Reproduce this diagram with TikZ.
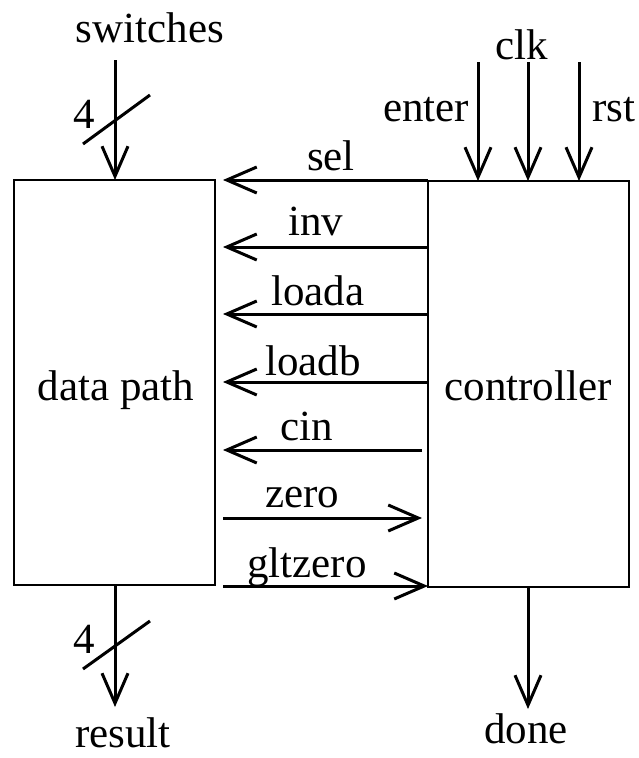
\documentclass[tikz,border=0pt]{standalone}
\usepackage{fontspec}
\setmainfont{Liberation Serif}
\usetikzlibrary{arrows.meta}
\tikzset{
  blk/.style={draw, line width=1.8pt, minimum width=201pt, inner sep=0pt, outer sep=0pt},
  sig/.style={line width=3pt, -{Straight Barb[length=30pt,width=26pt,line width=3pt]}},
  bus/.style={line width=3pt},
  lbl/.style={font=\fontsize{43}{46}\selectfont, inner sep=0pt, anchor=base},
}
\begin{document}
\begin{tikzpicture}[x=1pt,y=-1pt]
\useasboundingbox (0,0) rectangle (639,758);
% blocks
\node[blk, minimum height=405pt, anchor=north west] (dp) at (14,180) {};
\node[blk, minimum height=406pt, anchor=north west] (ctl) at (428,181) {};
\node[lbl] (dpl) at (116,400) {data path};
\node[lbl] (ctll) at (528,400) {controller};
% top inputs
\node[lbl] (sw) at (150,42) {switches};
\coordinate (swa) at (115,60);
\draw[sig] (swa) -- (swa |- dp.north);
\coordinate (s1a) at (83,144); \coordinate (s1b) at (150,95);
\draw[bus] (s1a) -- (s1b);
\node[lbl] (n4a) at (84,128) {4};
\node[lbl] (clk) at (522,59) {clk};
\node[lbl] (ent) at (426,121) {enter};
\node[lbl] (rst) at (614,121) {rst};
\coordinate (ea) at (478,62);
\coordinate (ca) at (528,62);
\coordinate (ra) at (579,62);
\draw[sig] (ea) -- (ea |- ctl.north);
\draw[sig] (ca) -- (ca |- ctl.north);
\draw[sig] (ra) -- (ra |- ctl.north);
% control signals
\coordinate (selS) at (428,180); \coordinate (selE) at (223,180);
\coordinate (invS) at (428,247); \coordinate (invE) at (223,247);
\coordinate (laS) at (428,314); \coordinate (laE) at (223,314);
\coordinate (lbS) at (428,382); \coordinate (lbE) at (223,382);
\coordinate (cinS) at (422,450); \coordinate (cinE) at (223,450);
\coordinate (zS) at (223,518); \coordinate (zE) at (422,518);
\coordinate (gS) at (223,586); \coordinate (gE) at (428,586);
\draw[sig] (selS) -- (selE);
\draw[sig] (invS) -- (invE);
\draw[sig] (laS) -- (laE);
\draw[sig] (lbS) -- (lbE);
\draw[sig] (cinS) -- (cinE);
\draw[sig] (zS) -- (zE);
\draw[sig] (gS) -- (gE);
\node[lbl] (sel) at (331,170) {sel};
\node[lbl] (inv) at (316,235) {inv};
\node[lbl] (la) at (318,305) {loada};
\node[lbl] (lb) at (313,375) {loadb};
\node[lbl] (cin) at (307,440) {cin};
\node[lbl] (zero) at (302,507) {zero};
\node[lbl] (glt) at (307,577) {gltzero};
% outputs
\coordinate (resE) at (115,707);
\draw[sig] (resE |- dp.south) -- (resE);
\coordinate (s2a) at (83,669); \coordinate (s2b) at (150,621);
\draw[bus] (s2a) -- (s2b);
\node[lbl] (n4b) at (84,653) {4};
\node[lbl] (res) at (123,747) {result};
\coordinate (doneE) at (528,709);
\draw[sig] (doneE |- ctl.south) -- (doneE);
\node[lbl] (done) at (526,743) {done};
\end{tikzpicture}
\end{document}
